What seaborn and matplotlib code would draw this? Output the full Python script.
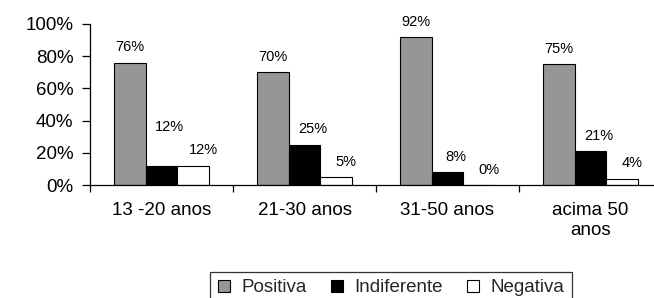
import matplotlib
matplotlib.use("Agg")
import matplotlib.pyplot as plt
import seaborn as sns
import pandas as pd
from matplotlib.patches import Patch
from matplotlib.ticker import PercentFormatter, FixedLocator

# ---- data ----
categories = ["13 -20 anos", "21-30 anos", "31-50 anos", "acima 50\nanos"]
series_names = ["Positiva", "Indiferente", "Negativa"]
positiva = [76, 70, 92, 75]
indiferente = [12, 25, 8, 21]
negativa = [12, 5, 0, 4]
y_ticks = [0, 20, 40, 60, 80, 100]

colors = ["#969696", "#000000", "#ffffff"]

sns.set_theme(style="white")
plt.rcParams["font.family"] = ["Liberation Sans", "DejaVu Sans"]

rows = []
for name, vals in zip(series_names, [positiva, indiferente, negativa]):
    for cat, v in zip(categories, vals):
        rows.append({"faixa": cat, "valor": v, "opiniao": name})
df = pd.DataFrame(rows)

fig = plt.figure(figsize=(6.54, 2.98), dpi=100)
W, H = 654, 298
ax = fig.add_axes([90 / W, 1 - 185 / H, 572 / W, (185 - 24) / H])

sns.barplot(data=df, x="faixa", y="valor", hue="opiniao", order=categories,
            hue_order=series_names, palette=colors, edgecolor="black",
            linewidth=0.8, width=0.67, saturation=1, ax=ax, legend=False)

ax.set_xlim(-0.5, len(categories) - 0.5)
ax.set_ylim(0, 100)
ax.set_xlabel("")
ax.set_ylabel("")
for s in ["top", "right"]:
    ax.spines[s].set_visible(False)
for s in ["left", "bottom"]:
    ax.spines[s].set_color("black")
    ax.spines[s].set_linewidth(0.9)

ax.yaxis.set_major_locator(FixedLocator(y_ticks))
ax.yaxis.set_major_formatter(PercentFormatter(decimals=0))
ax.tick_params(axis="y", which="major", left=True, length=6, width=0.9,
               color="black", direction="out", pad=6, labelsize=13.5,
               labelcolor="black")
ax.tick_params(axis="x", which="major", bottom=False, length=0, pad=12,
               labelsize=13.5, labelcolor="black")
ax.set_xticks([i + 0.5 for i in range(-1, len(categories))], minor=True)
ax.tick_params(axis="x", which="minor", bottom=True, length=5, width=0.9,
               color="black", direction="out")
for lab in ax.get_xticklabels():
    lab.set_linespacing(1.25)

# value labels
label_dx = [0, 6, 7]          # points, per series
for ci, (cont, vals) in enumerate(zip(ax.containers, [positiva, indiferente, negativa])):
    for bi, (bar, v) in enumerate(zip(cont, vals)):
        dy = 11
        if ci == 1 and bi == 0:
            dy = 28
        x = bar.get_x() + bar.get_width() / 2
        ax.annotate(f"{v}%", xy=(x, bar.get_height()), xytext=(label_dx[ci], dy),
                    textcoords="offset points", ha="center", va="center",
                    fontsize=10.5, color="black")

handles = [Patch(facecolor=c, edgecolor="black", linewidth=0.8) for c in colors]
leg = fig.legend(handles, series_names, loc="upper center",
                 bbox_to_anchor=(391 / W, 1 - 272 / H), ncol=3, frameon=True,
                 fontsize=13.5, handlelength=0.65, handleheight=0.65,
                 handletextpad=0.6, columnspacing=1.3, borderpad=0.4,
                 fancybox=False, borderaxespad=0)
leg.get_frame().set_edgecolor("black")
leg.get_frame().set_linewidth(0.9)

fig.savefig("out.png", dpi=100)
